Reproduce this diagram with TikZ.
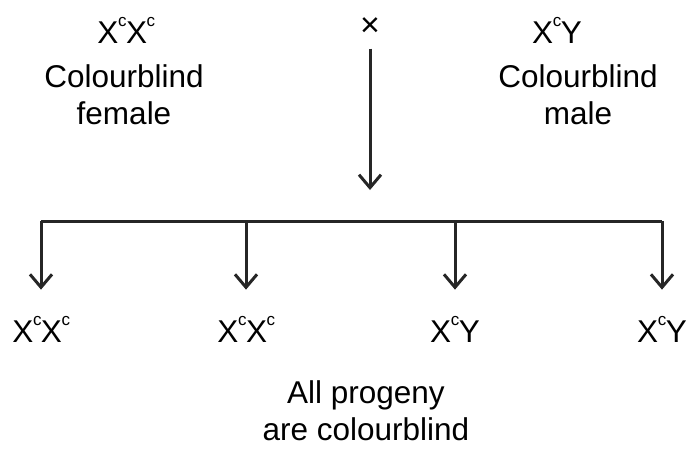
\documentclass[tikz,border=0pt]{standalone}
\usepackage{fontspec}
\setmainfont{Liberation Sans}
\usetikzlibrary{arrows.meta,positioning}
\newcommand{\Xc}{X\kern-0.5pt\raisebox{17pt}{\fontsize{17}{17}\selectfont c}\kern-0.5pt}

\begin{document}
\begin{tikzpicture}[x=1pt,y=-1pt,
  lbl/.style={font=\fontsize{31.5}{37}\selectfont,align=center,inner sep=2pt},
  arr/.style={-{Straight Barb[length=13pt,width=22pt,line width=3pt]},line width=3pt,black!85},
  barline/.style={line width=3pt,black!85}]
\useasboundingbox (0,0) rectangle (689,448);
% parents
\node[lbl,anchor=base] (fgeno) at (126,43) {\Xc\Xc};
\node[lbl,anchor=north] (fpheno) at (124,62) {Colourblind\\female};
\node[lbl,anchor=base] (mgeno) at (557,43) {\Xc Y};
\node[lbl,anchor=north] (mpheno) at (578,62) {Colourblind\\male};
\node[font=\fontsize{34}{34}\selectfont,inner sep=0pt] (cross) at (370,27) {×};
% cross to offspring
\coordinate (split) at (370,190);
\coordinate (bar) at (370,221);
\draw[arr,shorten <=12pt] (cross) -- (split);
\node[lbl,anchor=base] (kid1) at (41,342) {\Xc\Xc};
\node[lbl,anchor=base] (kid2) at (246,342) {\Xc\Xc};
\node[lbl,anchor=base] (kid3) at (455,342) {\Xc Y};
\node[lbl,anchor=base] (kid4) at (662,342) {\Xc Y};
\draw[barline] (bar -| kid1) -- (bar -| kid4);
\foreach \k in {kid1,kid2,kid3,kid4}
  \draw[arr,shorten >=24pt] (bar -| \k) -- (\k.north);
\node[lbl,anchor=north,inner sep=0pt] (note) at (366,380) {All progeny\\are colourblind};
\end{tikzpicture}
\end{document}
